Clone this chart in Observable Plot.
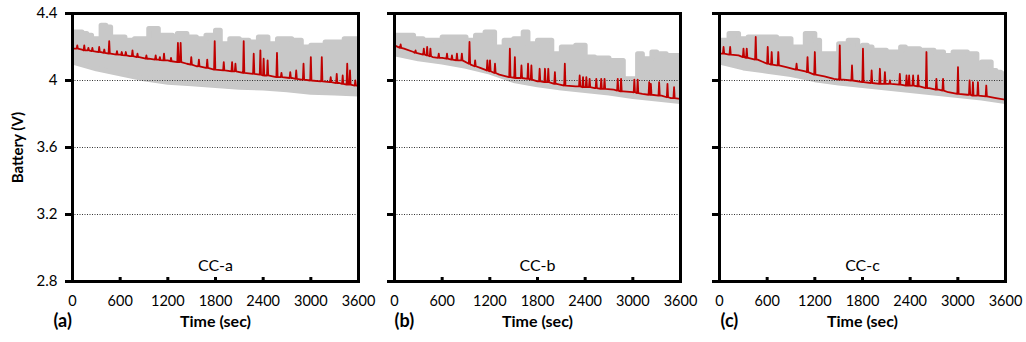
<!DOCTYPE html>
<html>
<head>
<meta charset="utf-8">
<script src="https://cdn.jsdelivr.net/npm/d3@7"></script>
<script src="https://cdn.jsdelivr.net/npm/@observablehq/plot@0.6"></script>
<style>
  html, body { margin: 0; padding: 0; background: white; }
  #wrap { position: relative; width: 1026px; height: 342px; overflow: hidden; font-family: Lato, "Open Sans", sans-serif; }
  #wrap > svg { position: absolute; top: 0; }
</style>
</head>
<body>
<div id="wrap"></div>
<script>
// ---------- tick labels / categories ----------
const xTicks = [0, 600, 1200, 1800, 2400, 3000, 3600];
const yTicks = [2.8, 3.2, 3.6, 4.0, 4.4];
const yTickLabels = ["2.8", "3.2", "3.6", "4", "4.4"];
const gridLevels = [3.2, 3.6, 4.0];
const panelNames = ["CC-a", "CC-b", "CC-c"];
const panelTags = ["(a)", "(b)", "(c)"];
const yTitle = "Battery (V)";
const xTitle = "Time (sec)";

// sampling steps (sec) of the arrays below
const hiStep = 60, loStep = 300, baseStep = 120;

// ---------- gray band: upper edge (every 60 s) ----------
const grayHiA = [4.29,4.29,4.28,4.27,4.25,4.25,4.33,4.32,4.26,4.26,4.26,4.24,4.24,4.25,4.25,4.25,4.31,4.31,4.27,4.27,4.27,4.25,4.28,4.28,4.26,4.26,4.25,4.25,4.27,4.27,4.30,4.22,4.22,4.25,4.25,4.24,4.24,4.23,4.23,4.26,4.26,4.22,4.22,4.25,4.25,4.25,4.24,4.24,4.20,4.20,4.21,4.21,4.21,4.23,4.23,4.23,4.23,4.25,4.25,4.25,4.24];
const grayHiB = [4.27,4.27,4.27,4.27,4.25,4.25,4.24,4.24,4.24,4.24,4.26,4.26,4.26,4.26,4.26,4.24,4.24,4.27,4.27,4.29,4.29,4.20,4.20,4.24,4.24,4.25,4.25,4.29,4.22,4.22,4.24,4.24,4.24,4.16,4.16,4.20,4.20,4.20,4.21,4.21,4.14,4.14,4.135,4.135,4.135,4.12,4.12,4.12,4.01,4.01,4.01,4.16,4.13,4.13,4.17,4.16,4.16,4.15,4.15,4.15,4.15];
const grayHiC = [4.24,4.24,4.28,4.28,4.25,4.25,4.26,4.26,4.26,4.26,4.26,4.26,4.25,4.25,4.25,4.20,4.20,4.20,4.28,4.28,4.24,4.16,4.16,4.16,4.16,4.22,4.22,4.24,4.24,4.20,4.21,4.20,4.18,4.18,4.18,4.17,4.17,4.17,4.20,4.19,4.19,4.19,4.18,4.18,4.18,4.17,4.17,4.15,4.15,4.17,4.17,4.17,4.16,4.16,4.10,4.11,4.11,4.06,4.05,4.04,4.03];

// ---------- gray band: lower edge (every 300 s) ----------
const grayLoA = [4.11,4.07,4.04,4.01,3.99,3.98,3.97,3.96,3.955,3.945,3.93,3.925,3.92];
const grayLoB = [4.16,4.13,4.11,4.085,4.05,4.00,3.975,3.955,3.94,3.925,3.905,3.89,3.875];
const grayLoC = [4.11,4.075,4.055,4.035,4.005,3.985,3.97,3.955,3.94,3.925,3.91,3.895,3.875];

// ---------- red trace: baseline (every 120 s) ----------
const redBaseA = [4.19,4.185,4.175,4.17,4.16,4.155,4.145,4.14,4.13,4.125,4.12,4.11,4.10,4.085,4.075,4.065,4.06,4.055,4.045,4.04,4.03,4.025,4.02,4.015,4.005,4.0,3.995,3.99,3.985,3.975,3.97];
const redBaseB = [4.21,4.19,4.17,4.155,4.14,4.135,4.125,4.12,4.095,4.075,4.055,4.035,4.02,4.015,4.01,3.995,3.99,3.98,3.97,3.965,3.96,3.955,3.95,3.945,3.935,3.93,3.92,3.915,3.91,3.895,3.89];
const redBaseC = [4.16,4.155,4.15,4.135,4.125,4.10,4.09,4.08,4.065,4.055,4.035,4.025,4.01,4.005,4.0,3.99,3.985,3.98,3.98,3.975,3.97,3.965,3.955,3.945,3.93,3.92,3.915,3.91,3.905,3.895,3.885];

// ---------- red trace: spikes [time, foot, top] ----------
const redSpikesA = [[60,4.19,4.21],[148,4.18,4.21],[200,4.18,4.195],[250,4.175,4.195],[336,4.17,4.20],[400,4.165,4.185],[462,4.16,4.235],[560,4.155,4.175],[620,4.152,4.17],[671,4.15,4.17],[755,4.145,4.18],[818,4.14,4.16],[930,4.13,4.15],[1047,4.125,4.15],[1100,4.122,4.14],[1152,4.12,4.16],[1240,4.115,4.135],[1327,4.11,4.225],[1361,4.11,4.225],[1495,4.095,4.14],[1591,4.085,4.125],[1696,4.075,4.125],[1790,4.065,4.235],[1904,4.06,4.11],[2009,4.055,4.11],[2051,4.055,4.10],[2155,4.045,4.235],[2281,4.04,4.16],[2365,4.035,4.18],[2406,4.03,4.13],[2456,4.03,4.12],[2574,4.02,4.165],[2630,4.02,4.045],[2741,4.015,4.05],[2816,4.01,4.06],[2908,4.005,4.10],[3000,4.0,4.14],[3138,3.995,4.14],[3250,3.99,4.02],[3326,3.985,4.04],[3401,3.98,4.03],[3458,3.975,4.10],[3493,3.975,4.06],[3560,3.97,4.0]];
const redSpikesB = [[77,4.195,4.215],[265,4.165,4.18],[369,4.155,4.19],[411,4.15,4.20],[452,4.145,4.19],[557,4.135,4.16],[661,4.13,4.16],[723,4.125,4.15],[786,4.12,4.16],[848,4.12,4.16],[944,4.10,4.23],[1015,4.085,4.12],[1169,4.06,4.12],[1202,4.055,4.12],[1265,4.045,4.10],[1452,4.02,4.19],[1515,4.015,4.14],[1598,4.015,4.09],[1681,4.01,4.10],[1723,4.005,4.09],[1827,3.995,4.07],[1894,3.99,4.07],[1936,3.99,4.07],[2019,3.98,4.05],[2144,3.97,4.10],[2331,3.965,4.03],[2373,3.96,4.02],[2415,3.96,4.02],[2456,3.96,4.01],[2540,3.955,4.01],[2602,3.95,4.01],[2644,3.95,4.01],[2810,3.94,4.01],[2852,3.935,4.01],[3019,3.93,4.005],[3061,3.925,4.005],[3206,3.915,3.99],[3227,3.915,3.98],[3331,3.91,3.99],[3436,3.90,3.98],[3519,3.895,3.96]];
const redSpikesC = [[51,4.16,4.20],[134,4.155,4.20],[302,4.14,4.19],[343,4.135,4.19],[456,4.125,4.26],[607,4.10,4.20],[657,4.095,4.17],[740,4.09,4.17],[970,4.065,4.10],[1108,4.05,4.14],[1200,4.035,4.17],[1514,4.005,4.21],[1668,4.0,4.09],[1806,3.99,4.19],[1915,3.985,4.06],[2019,3.98,4.07],[2082,3.98,4.05],[2145,3.98,4.0],[2270,3.975,4.04],[2354,3.97,4.03],[2387,3.97,4.03],[2437,3.97,4.03],[2500,3.965,4.03],[2605,3.955,4.17],[2730,3.945,4.01],[2814,3.94,4.01],[3002,3.92,4.08],[3148,3.915,4.0],[3190,3.91,3.99],[3253,3.91,3.99],[3358,3.905,3.97]];

// ---------- styling ----------
const GRAY = "#c8c8c8";
const RED = "#c00000";
const FONT = "Lato, 'Open Sans', sans-serif";
const panelLefts = [0, 322, 647];
const tagShift = [-19, 0, 1];

const panels = [
  {hi: grayHiA, lo: grayLoA, base: redBaseA, spikes: redSpikesA},
  {hi: grayHiB, lo: grayLoB, base: redBaseB, spikes: redSpikesB},
  {hi: grayHiC, lo: grayLoC, base: redBaseC, spikes: redSpikesC}
];

function buildPanel(p, i) {
  const hiData = p.hi.map((v, k) => ({t: k * hiStep, v}));
  const loData = p.lo.map((v, k) => ({t: k * loStep, v}));
  const halfW = 8;
  const spikePts = p.spikes.flatMap(([t, b, top]) => [{t: t - halfW, v: b}, {t, v: top}, {t: t + halfW, v: b}]);
  const basePts = p.base.map((v, k) => ({t: k * baseStep, v}))
    .filter(d => !p.spikes.some(([t]) => Math.abs(t - d.t) <= halfW + 1));
  const redData = [...basePts, ...spikePts].sort((a, b) => a.t - b.t);
  const first = i === 0;

  const marks = [
    Plot.areaY(hiData, {x: "t", y: "v", curve: "step-after", fill: GRAY, clip: true}),
    Plot.line(hiData, {x: "t", y: "v", curve: "step-after", stroke: GRAY, strokeWidth: 5, strokeLinejoin: "round", strokeLinecap: "round", clip: true}),
    Plot.areaY(loData, {x: "t", y: "v", fill: "white", clip: true}),
    Plot.line(loData, {x: "t", y: "v", stroke: GRAY, strokeWidth: 5, strokeLinejoin: "round", strokeLinecap: "round", clip: true}),
    Plot.ruleY(gridLevels, {stroke: "#333", strokeWidth: 1, strokeDasharray: "1,1.5"}),
    Plot.line(redData, {x: "t", y: "v", stroke: RED, strokeWidth: 1.8, strokeLinejoin: "round", clip: true}),
    Plot.axisY({ticks: yTicks, tickSize: 7, tickPadding: 8, strokeWidth: 3,
      tickFormat: first ? (d => yTickLabels[yTicks.indexOf(d)]) : (() => ""),
      fontSize: 15, label: null}),
    Plot.axisX({ticks: xTicks, tickSize: -4, strokeWidth: 3, tickFormat: () => "", label: null}),
    Plot.axisX({ticks: xTicks, tickSize: 0, tickPadding: 14, tickFormat: d => String(d), fontSize: 14.5, label: null}),
    Plot.frame({stroke: "black", strokeWidth: 3}),
    Plot.text([panelNames[i]], {frameAnchor: "bottom", dy: -11, fontSize: 16, fill: "black"}),
    Plot.text([xTitle], {frameAnchor: "bottom", dy: 45, fontSize: 16, fontWeight: "bold", fill: "black"}),
    Plot.text([panelTags[i]], {frameAnchor: "bottom-left", textAnchor: "start", dx: tagShift[i], dy: 45, fontSize: 18, fontWeight: "bold", fill: "black"})
  ];
  if (first) {
    marks.push(Plot.text([yTitle], {frameAnchor: "left", textAnchor: "middle", dx: -54, rotate: -90, fontSize: 15, fontWeight: "bold", fill: "black"}));
  }

  return Plot.plot({
    width: 375,
    height: 342,
    marginLeft: 72,
    marginRight: 17,
    marginTop: 13,
    marginBottom: 61,
    x: {domain: [0, 3600]},
    y: {domain: [2.8, 4.4]},
    style: {fontFamily: FONT, fontSize: "14px", color: "black", background: "transparent", overflow: "visible"},
    marks
  });
}

const wrap = document.getElementById("wrap");
panels.forEach((p, i) => {
  const svg = buildPanel(p, i);
  svg.style.left = panelLefts[i] + "px";
  wrap.appendChild(svg);
});
</script>
</body>
</html>
